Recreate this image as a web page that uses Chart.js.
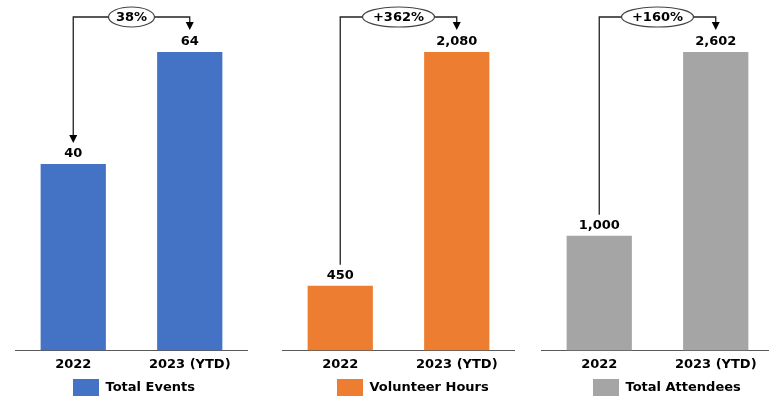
<!DOCTYPE html>
<html>
<head>
<meta charset="utf-8">
<script src="https://cdn.jsdelivr.net/npm/chart.js@4.4.1/dist/chart.umd.min.js"></script>
<style>
    html, body { margin: 0; padding: 0; background: #fff; overflow: hidden; width: 769px; height: 400px; }
    .panel { position: absolute; top: 0; width: 233px; height: 406px; }
</style>
</head>
<body>
<div class="panel" style="left:15px"><canvas id="events"></canvas></div>
<div class="panel" style="left:282px"><canvas id="hours"></canvas></div>
<div class="panel" style="left:541px"><canvas id="attendees"></canvas></div>
<script>
var categories = ["2022", "2023 (YTD)"];
var eventsValues = [40, 64];
var hoursValues = [450, 2080];
var attendeesValues = [1000, 2602];
var seriesNames = ["Total Events", "Volunteer Hours", "Total Attendees"];
var changeLabels = ["38%", "+362%", "+160%"];

var FONT = "bold 13px 'DejaVu Sans'";

// value labels + the bracket arrow with the % change bubble
var annotate = {
    id: "annotate",
    afterLayout: function (chart) {
        var o = chart.options.plugins.annotate;
        var lg = chart.legend;
        var w = lg.right - lg.left;
        lg.left = chart.chartArea.left + o.legendX - lg.options.labels.padding;
        lg.right = lg.left + w;
    },
    afterDatasetsDraw: function (chart) {
        var o = chart.options.plugins.annotate;
        var ctx = chart.ctx;
        var bars = chart.getDatasetMeta(0).data;
        var vals = chart.data.datasets[0].data;
        ctx.save();
        ctx.font = FONT;
        ctx.fillStyle = "#000";
        ctx.textAlign = "center";
        ctx.textBaseline = "middle";
        bars.forEach(function (b, i) {
            ctx.fillText(vals[i].toLocaleString("en-US"), b.x, b.y - 10.5);
        });

        var topY = chart.chartArea.top - 35;
        var x0 = bars[0].x, x1 = bars[1].x;
        var y0 = bars[0].y - 21, y1 = bars[1].y - 22;
        ctx.strokeStyle = "#222";
        ctx.lineWidth = 1.3;
        ctx.beginPath();
        ctx.moveTo(x0, o.arrowLeft ? y0 - 7 : y0);
        ctx.lineTo(x0, topY);
        ctx.lineTo(x1, topY);
        ctx.lineTo(x1, y1 - 7);
        ctx.stroke();

        ctx.fillStyle = "#000";
        function head(x, y) {
            ctx.beginPath();
            ctx.moveTo(x - 4, y - 8);
            ctx.lineTo(x + 4, y - 8);
            ctx.lineTo(x, y);
            ctx.closePath();
            ctx.fill();
        }
        head(x1, y1);
        if (o.arrowLeft) head(x0, y0);

        var cx = (x0 + x1) / 2;
        ctx.beginPath();
        ctx.ellipse(cx, topY, o.rx, 10, 0, 0, Math.PI * 2);
        ctx.fillStyle = "#fff";
        ctx.fill();
        ctx.strokeStyle = "#444";
        ctx.lineWidth = 1.2;
        ctx.stroke();
        ctx.fillStyle = "#000";
        ctx.fillText(o.text, cx, topY + 0.5);
        ctx.restore();
    }
};

function makePanel(id, values, name, color, change, rx, arrowLeft, legendX) {
    new Chart(id, {
        type: "bar",
        data: {
            labels: categories,
            datasets: [{
                label: name,
                data: values,
                backgroundColor: color,
                borderWidth: 0,
                categoryPercentage: 1,
                barPercentage: 0.56
            }]
        },
        options: {
            responsive: true,
            maintainAspectRatio: false,
            animation: false,
            layout: { padding: { top: 52, left: 0, right: 0, bottom: 0 } },
            scales: {
                x: {
                    grid: { display: false, drawTicks: false },
                    border: { display: true, color: "#595959", width: 1 },
                    ticks: { color: "#000", padding: 6, font: { family: "DejaVu Sans", size: 13, weight: "bold" } }
                },
                y: { display: false, min: 0, max: Math.max.apply(null, values) }
            },
            plugins: {
                legend: {
                    position: "bottom",
                    align: "start",
                    labels: {
                        boxWidth: 26,
                        boxHeight: 17,
                        padding: 1,
                        color: "#000",
                        font: { family: "DejaVu Sans", size: 13, weight: "bold" }
                    }
                },
                tooltip: { enabled: false },
                annotate: { text: change, rx: rx, arrowLeft: arrowLeft, legendX: legendX }
            }
        },
        plugins: [annotate]
    });
}

makePanel("events", eventsValues, seriesNames[0], "#4472C4", changeLabels[0], 23, true, 58);
makePanel("hours", hoursValues, seriesNames[1], "#ED7D31", changeLabels[1], 36, false, 55);
makePanel("attendees", attendeesValues, seriesNames[2], "#A5A5A5", changeLabels[2], 36, false, 52);
</script>
</body>
</html>
